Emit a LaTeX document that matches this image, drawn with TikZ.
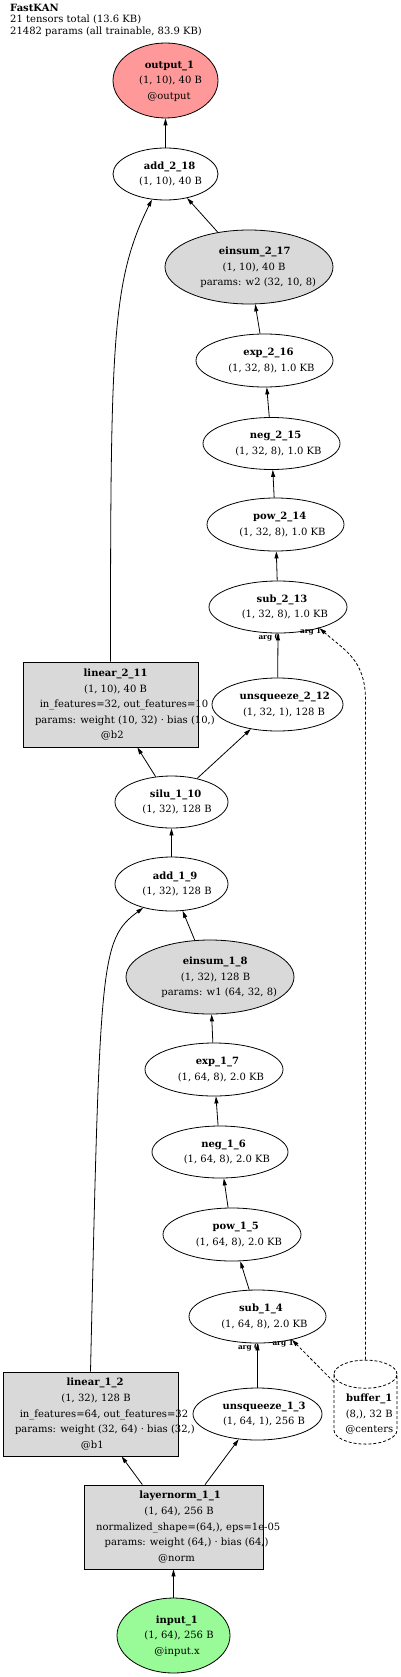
\documentclass[tikz,border=0pt]{standalone}
\usepackage{fontspec}
\setmainfont{DejaVu Serif}
\usepackage{array}
\usepackage{tikz}
\usetikzlibrary{arrows.meta,shapes.geometric}
\definecolor{outred}{RGB}{255,153,153}
\definecolor{ingreen}{RGB}{152,251,152}
\definecolor{modgray}{RGB}{217,217,217}
\newcommand{\nodefont}{\fontsize{10}{15.6}\selectfont}
\newcommand{\argfont}{\fontsize{7.3}{8}\selectfont\bfseries}
\newsavebox{\lnbox}
\newcolumntype{L}{>{\begin{lrbox}{\lnbox}}c<{\end{lrbox}\makebox[0.84\wd\lnbox][l]{\usebox{\lnbox}}}}
\newcommand{\ntxt}[1]{\makebox[0pt]{\begin{tabular}{@{}L@{}}#1\end{tabular}}}
\newcommand{\btxt}[1]{\begin{tabular}{@{}L@{}}#1\end{tabular}}
\tikzset{
  sz/.style 2 args={minimum width=#1pt, minimum height=#2pt},
  opnode/.style={ellipse, draw, line width=0.8pt, inner sep=0pt, font=\nodefont},
  parop/.style={opnode, fill=modgray},
  modbox/.style={rectangle, draw, line width=0.8pt, fill=modgray, inner sep=0pt, font=\nodefont},
  bufnode/.style={cylinder, shape border rotate=90, aspect=0.5, draw, dash pattern=on 3pt off 2pt, line width=0.8pt, inner xsep=8pt, inner ysep=2pt, font=\nodefont},
  flow/.style={-{Triangle[length=7pt, width=4pt]}, line width=0.8pt},
  bufflow/.style={flow, dash pattern=on 3pt off 2pt},
  argtag/.style={font=\argfont, inner sep=0pt, anchor=north east},
}

\begin{document}
\begin{tikzpicture}[x=1pt, y=-1pt]
\useasboundingbox (0,0) rectangle (400,1677);
\node[anchor=north west, inner sep=0pt, align=left, font=\fontsize{10}{11.5}\selectfont] (hdr) at (10,4)
  {\textbf{FastKAN}\\21 tensors total (13.6 KB)\\21482 params (all trainable, 83.9 KB)};

% second KAN layer
\node[opnode, sz={105}{75}, fill=outred] (out) at (165.5,80.5) {\ntxt{\textbf{output\_1}\\(1, 10), 40 B\\@output}};
\node[opnode, sz={105}{52}] (add2) at (165.5,174) {\ntxt{\textbf{add\_2\_18}\\(1, 10), 40 B}};
\node[parop, sz={168}{74}] (ein2) at (249,267) {\ntxt{\textbf{einsum\_2\_17}\\(1, 10), 40 B\\params: w2 (32, 10, 8)}};
\node[opnode, sz={137}{53}] (exp2) at (264.5,360.5) {\ntxt{\textbf{exp\_2\_16}\\(1, 32, 8), 1.0 KB}};
\node[opnode, sz={137}{52}] (neg2) at (271.5,443.5) {\ntxt{\textbf{neg\_2\_15}\\(1, 32, 8), 1.0 KB}};
\node[opnode, sz={137}{53}] (pow2) at (275.5,524.5) {\ntxt{\textbf{pow\_2\_14}\\(1, 32, 8), 1.0 KB}};
\node[opnode, sz={138}{52}] (sub2) at (278,607) {\ntxt{\textbf{sub\_2\_13}\\(1, 32, 8), 1.0 KB}};
\node[modbox, sz={175}{85}] (lin2) at (110.5,704.5) {\ntxt{\textbf{linear\_2\_11}\\(1, 10), 40 B\\in\_features=32, out\_features=10\\params: weight (10, 32) · bias (10,)\\@b2}};
\node[opnode, sz={131}{53}] (uns2) at (277.5,704.5) {\ntxt{\textbf{unsqueeze\_2\_12}\\(1, 32, 1), 128 B}};
\node[opnode, sz={113}{52}] (silu) at (171.5,802) {\ntxt{\textbf{silu\_1\_10}\\(1, 32), 128 B}};

% first KAN layer
\node[opnode, sz={113}{54}] (add1) at (171.5,884) {\ntxt{\textbf{add\_1\_9}\\(1, 32), 128 B}};
\node[parop, sz={168}{74}] (ein1) at (210,977) {\ntxt{\textbf{einsum\_1\_8}\\(1, 32), 128 B\\params: w1 (64, 32, 8)}};
\node[opnode, sz={138}{53}] (exp1) at (214,1069.5) {\ntxt{\textbf{exp\_1\_7}\\(1, 64, 8), 2.0 KB}};
\node[opnode, sz={136}{52}] (neg1) at (220,1152) {\ntxt{\textbf{neg\_1\_6}\\(1, 64, 8), 2.0 KB}};
\node[opnode, sz={138}{53}] (pow1) at (232,1234.5) {\ntxt{\textbf{pow\_1\_5}\\(1, 64, 8), 2.0 KB}};
\node[opnode, sz={137}{53}] (sub1) at (257.5,1316.5) {\ntxt{\textbf{sub\_1\_4}\\(1, 64, 8), 2.0 KB}};
\node[modbox, sz={175}{84}] (lin1) at (90.5,1414) {\ntxt{\textbf{linear\_1\_2}\\(1, 32), 128 B\\in\_features=64, out\_features=32\\params: weight (32, 64) · bias (32,)\\@b1}};
\node[opnode, sz={129}{52}] (uns1) at (257.5,1414) {\ntxt{\textbf{unsqueeze\_1\_3}\\(1, 64, 1), 256 B}};
\node[bufnode, sz={63}{74}] (buf) at (365.5,1414) {\btxt{\textbf{buffer\_1}\\(8,), 32 B\\@centers}};
\node[modbox, sz={179}{84}] (ln) at (173.5,1527) {\ntxt{\textbf{layernorm\_1\_1}\\(1, 64), 256 B\\normalized\_shape=(64,), eps=1e-05\\params: weight (64,) · bias (64,)\\@norm}};
\node[opnode, sz={113}{75}, fill=ingreen] (inp) at (173.5,1635.5) {\ntxt{\textbf{input\_1}\\(1, 64), 256 B\\@input.x}};
\coordinate (bendc) at (365.5,700);

% edges
\draw[flow] (add2) -- (out);
\draw[flow] (ein2) -- (add2);
\draw[flow] (lin2.north) .. controls +(0,-322) and +(-40,81) .. (add2.242);
\draw[flow] (exp2) -- (ein2);
\draw[flow] (neg2) -- (exp2);
\draw[flow] (pow2) -- (neg2);
\draw[flow] (sub2) -- (pow2);
\draw[flow] (uns2) -- (sub2.south);
\node[argtag] (s2a0) at ([xshift=2pt]sub2.south) {arg 0};
\draw[bufflow] (buf.north) -- (bendc) .. controls +(0,-40) and +(25,22) .. (sub2.-27);
\node[argtag] (s2a1) at ([xshift=2pt]sub2.-27) {arg 1};
\draw[flow] (silu) -- (lin2);
\draw[flow] (silu) -- (uns2);
\draw[flow] (add1) -- (silu);
\draw[flow] (ein1) -- (add1);
\draw[flow] (lin1.north) .. controls +(9.5,-412) and +(-43,32) .. (add1.220);
\draw[flow] (exp1) -- (ein1);
\draw[flow] (neg1) -- (exp1);
\draw[flow] (pow1) -- (neg1);
\draw[flow] (sub1) -- (pow1);
\draw[flow] (uns1) -- (sub1.south);
\node[argtag] (s1a0) at ([xshift=2pt]sub1.south) {arg 0};
\draw[bufflow] (buf) -- (sub1.-34);
\node[argtag] (s1a1) at ([xshift=2pt]sub1.-34) {arg 1};
\draw[flow] (ln) -- (lin1);
\draw[flow] (ln) -- (uns1);
\draw[flow] (inp) -- (ln);
\end{tikzpicture}
\end{document}
